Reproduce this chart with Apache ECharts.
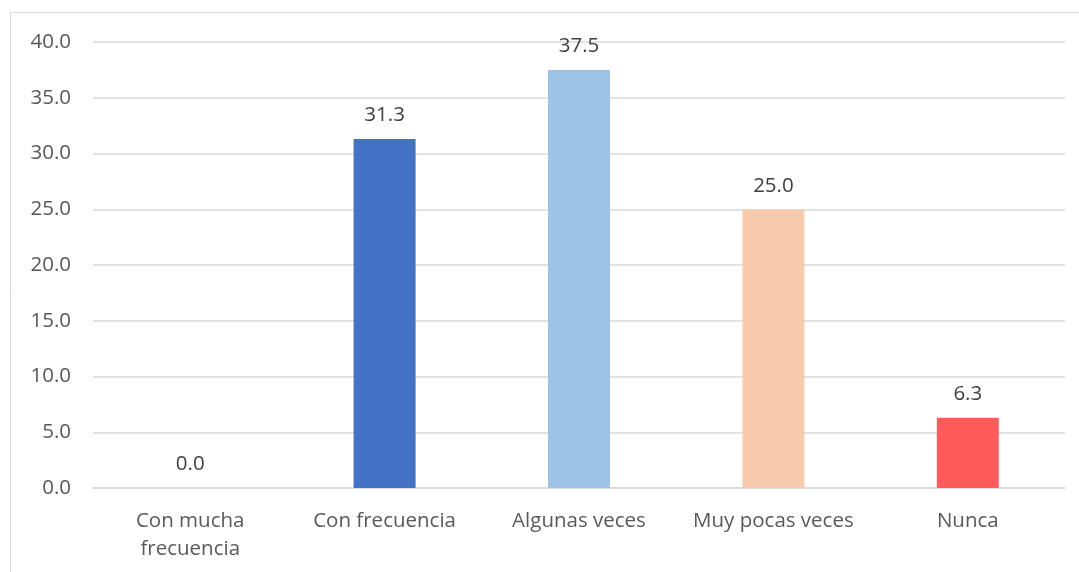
<!DOCTYPE html>
<html><head><meta charset="utf-8">
<script src="https://cdn.jsdelivr.net/npm/echarts@6/dist/echarts.min.js"></script>
<style>html,body{margin:0;padding:0;background:#fff}#c{width:1079px;height:572px}</style>
</head><body><div id="c"></div>
<script>
const categories = ["Con mucha\nfrecuencia", "Con frecuencia", "Algunas veces", "Muy pocas veces", "Nunca"];
const values = [0.0, 31.3, 37.5, 25.0, 6.3];
const barColors = ["#4472C4", "#4472C4", "#9DC3E6", "#F8CBAD", "#FF5B5B"];
const yTicks = { min: 0, max: 40, interval: 5 };

const FONT = 'Open Sans, Liberation Sans, sans-serif';
const chart = echarts.init(document.getElementById('c'), null, {renderer: 'canvas'});
chart.setOption({
  animation: false,
  backgroundColor: '#fff',
  graphic: [{
    type: 'rect', shape: {x: 10.5, y: 12.5, width: 1100, height: 600},
    style: {fill: 'none', stroke: '#D9D9D9', lineWidth: 1}, silent: true, z: -1
  }],
  grid: {left: 93, right: 14, top: 42, bottom: 84},
  xAxis: {
    type: 'category', data: categories,
    axisLine: {show: true, lineStyle: {color: '#D9D9D9', width: 1.5}},
    axisTick: {show: false},
    axisLabel: {color: '#595959', fontSize: 20.5, fontFamily: FONT, margin: 19, lineHeight: 28, interval: 0}
  },
  yAxis: {
    type: 'value', min: yTicks.min, max: yTicks.max, interval: yTicks.interval,
    axisLine: {show: false}, axisTick: {show: false},
    splitLine: {lineStyle: {color: '#D9D9D9', width: 1.5}},
    axisLabel: {color: '#595959', fontSize: 20.5, fontFamily: FONT, margin: 22,
      formatter: v => v.toFixed(1)}
  },
  series: [{
    type: 'bar', barWidth: 62,
    data: values.map((v, i) => ({value: v, itemStyle: {color: barColors[i]}})),
    label: {show: true, position: 'top', distance: 13, color: '#404040', fontSize: 20.5,
      fontFamily: FONT, formatter: p => p.value.toFixed(1)}
  }]
});
</script></body></html>
